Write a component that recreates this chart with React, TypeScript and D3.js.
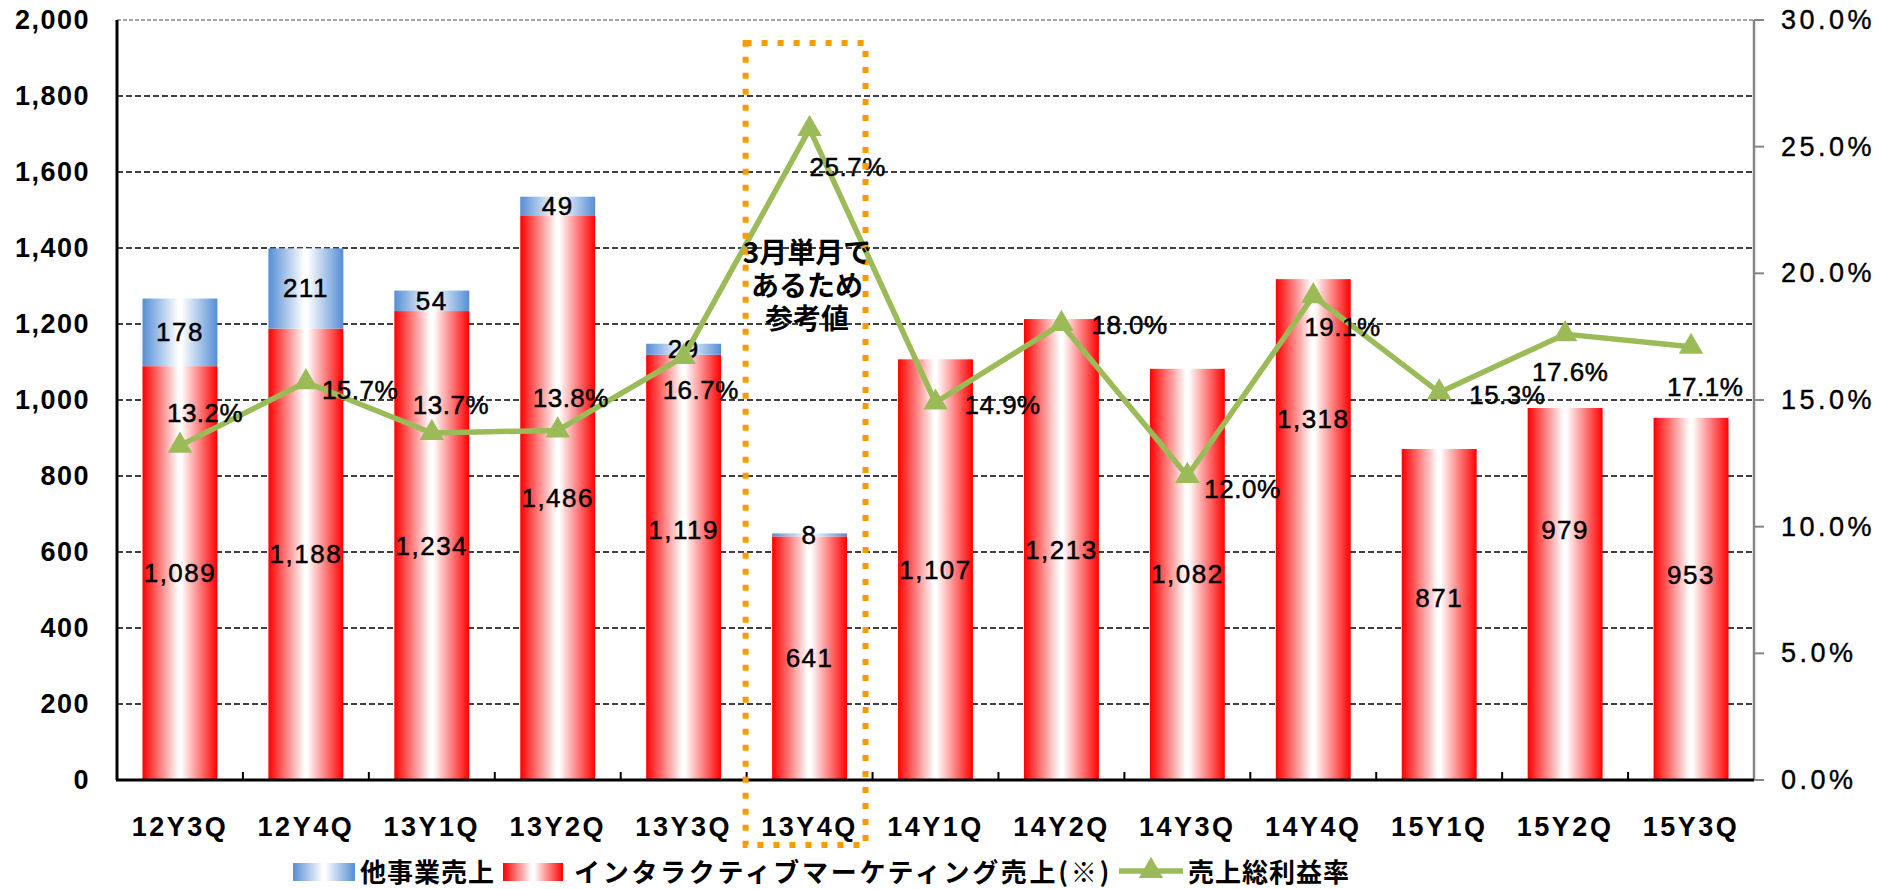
import * as d3 from "d3";

// 四半期ごとの売上（百万円）と売上総利益率
const categories = ["12Y3Q", "12Y4Q", "13Y1Q", "13Y2Q", "13Y3Q", "13Y4Q", "14Y1Q", "14Y2Q", "14Y3Q", "14Y4Q", "15Y1Q", "15Y2Q", "15Y3Q"];
const interactiveSales = [1089, 1188, 1234, 1486, 1119, 641, 1107, 1213, 1082, 1318, 871, 979, 953];
const otherSales = [178, 211, 54, 49, 29, 8, 0, 0, 0, 0, 0, 0, 0];
const grossMarginRate = [13.2, 15.7, 13.7, 13.8, 16.7, 25.7, 14.9, 18.0, 12.0, 19.1, 15.3, 17.6, 17.1];
const salesTicks = [0, 200, 400, 600, 800, 1000, 1200, 1400, 1600, 1800, 2000];
const rateTicks = [0, 5, 10, 15, 20, 25, 30];
const legendLabels = ["他事業売上", "インタラクティブマーケティング売上(※)", "売上総利益率"];
const noteLines = ["3月単月で", "あるため", "参考値"];

// ラベルの微調整（元の図で手動で動かしてある位置）
const rateLabelOffset = [[-13, -33], [16, 8], [-19, -28], [-25, -32], [-21, 33], [0, 38], [29, 2], [30, 1], [17, 13], [-9, 31], [30, 3], [-33, 38], [-24, 40]];
const redLabelShift = [0, 0, 0, 0, -37, 0, 0, 0, 0, -111, -17, -64, -24];

const W = 1879, H = 889;
const left = 117, right = 1754, top = 20, bottom = 780;
const numFont = "'Liberation Sans', Arial, 'Noto Sans CJK JP', sans-serif";
const jpFont = "'Noto Sans CJK JP', sans-serif";

const App = () => {
    const x = d3.scaleBand().domain(categories).range([left, right]).paddingInner(0.405).paddingOuter(0.2025);
    const step = x.step();
    const cx = (i) => left + step * (i + 0.5);
    const yL = d3.scaleLinear().domain([0, 2000]).range([bottom, top]);
    const yR = d3.scaleLinear().domain([0, 30]).range([bottom, top]);

    const line = d3.line().x((d, i) => cx(i)).y(d => yR(d));
    const tri = d3.symbol(d3.symbolTriangle, 260)();
    const fmt = d3.format(",");

    const noteIdx = categories.indexOf("13Y4Q");
    const noteX = x(categories[noteIdx]) - step * 0.405 / 2 - 1;

    // データラベル共通
    const lbl = {fontFamily: numFont, fontSize: 26, letterSpacing: 1.5, stroke: "#000", strokeWidth: 0.5, dominantBaseline: "central"};
    const leg = {dominantBaseline: "central", fontFamily: jpFont, fontSize: 26, fontWeight: "bold"};

    return (
        <svg width={W} height={H} style={{position: "absolute", left: 0, top: 0, background: "#fff"}}>
            <defs>
                <linearGradient id="gRed" x1="0" x2="1" y1="0" y2="0">
                    <stop offset="0%" stopColor="#ff0000" />
                    <stop offset="48%" stopColor="#ffffff" />
                    <stop offset="52%" stopColor="#ffffff" />
                    <stop offset="100%" stopColor="#ff0000" />
                </linearGradient>
                <linearGradient id="gBlue" x1="0" x2="1" y1="0" y2="0">
                    <stop offset="0%" stopColor="#558ed5" />
                    <stop offset="48%" stopColor="#ffffff" />
                    <stop offset="52%" stopColor="#ffffff" />
                    <stop offset="100%" stopColor="#558ed5" />
                </linearGradient>
            </defs>

            {/* グリッド線 */}
            {salesTicks.filter(t => t > 0 && t < 2000).map(t => (
                <line key={t} x1={left} x2={right} y1={yL(t)} y2={yL(t)} stroke="#000" strokeWidth={1.5} strokeDasharray="6 3" />
            ))}
            <line x1={left} x2={right} y1={yL(2000)} y2={yL(2000)} stroke="#888" strokeWidth={1.5} strokeDasharray="4 2" />

            {/* 棒グラフ */}
            {categories.map((c, i) => (
                <g key={c}>
                    <rect x={x(c)} y={yL(interactiveSales[i])} width={x.bandwidth()} height={bottom - yL(interactiveSales[i])} fill="url(#gRed)" />
                    {otherSales[i] > 0 && (
                        <rect x={x(c)} y={yL(interactiveSales[i] + otherSales[i])} width={x.bandwidth()}
                              height={yL(interactiveSales[i]) - yL(interactiveSales[i] + otherSales[i])} fill="url(#gBlue)" />
                    )}
                </g>
            ))}

            {/* 軸 */}
            <line x1={left} x2={left} y1={top} y2={bottom} stroke="#000" strokeWidth={3} />
            <line x1={right} x2={right} y1={top} y2={bottom} stroke="#868686" strokeWidth={2.5} />
            {rateTicks.map(t => (
                <line key={t} x1={right} x2={right + 10} y1={yR(t)} y2={yR(t)} stroke="#868686" strokeWidth={2} />
            ))}
            {categories.map((c, i) => i > 0 && (
                <line key={c} x1={left + step * i} x2={left + step * i} y1={bottom} y2={bottom - 8} stroke="#000" strokeWidth={2} />
            ))}
            <line x1={left - 1} x2={right} y1={bottom} y2={bottom} stroke="#000" strokeWidth={3} />

            {salesTicks.map(t => (
                <text key={t} x={90} y={yL(t)} textAnchor="end" dominantBaseline="central" fontFamily={numFont}
                      fontSize={27} fontWeight="bold" letterSpacing={1.5}>{fmt(t)}</text>
            ))}
            {rateTicks.map(t => (
                <text key={t} x={1781} y={yR(t)} dominantBaseline="central" fontFamily={numFont} fontSize={27}
                      letterSpacing={3.5} stroke="#000" strokeWidth={0.4}>{t.toFixed(1)}%</text>
            ))}
            {categories.map((c, i) => (
                <text key={c} x={cx(i)} y={827} textAnchor="middle" dominantBaseline="central"
                      fontFamily="'Liberation Sans Narrow', 'Arial Narrow', 'Liberation Sans', sans-serif"
                      fontSize={27} fontWeight="bold" letterSpacing={2.5}>{c}</text>
            ))}

            {/* 棒のラベル */}
            {categories.map((c, i) => (
                <text key={c} x={cx(i)} y={(yL(interactiveSales[i]) + bottom) / 2 + redLabelShift[i]} textAnchor="middle"
                      {...lbl}>{fmt(interactiveSales[i])}</text>
            ))}
            {categories.map((c, i) => otherSales[i] > 0 && (
                <text key={c} x={cx(i)} y={yL(interactiveSales[i] + otherSales[i] / 2)} textAnchor="middle"
                      {...lbl}>{otherSales[i]}</text>
            ))}

            {/* 売上総利益率 */}
            <path d={line(grossMarginRate)} fill="none" stroke="#9bbb59" strokeWidth={5.5} strokeLinejoin="round" />
            {grossMarginRate.map((r, i) => (
                <path key={i} d={tri} transform={`translate(${cx(i)},${yR(r)})`} fill="#9bbb59" />
            ))}
            {grossMarginRate.map((r, i) => (
                <text key={i} x={cx(i) + rateLabelOffset[i][0]} y={yR(r) + rateLabelOffset[i][1]} {...lbl}
                      letterSpacing={0.5}>{r.toFixed(1)}%</text>
            ))}

            {/* 13Y4Q の注記 */}
            <rect x={noteX} y={43} width={step - 6} height={802} fill="none" stroke="#ff9900" strokeWidth={6} strokeDasharray="6 10" />
            {noteLines.map((s, i) => (
                <text key={s} x={807} y={251 + i * 33} textAnchor="middle" dominantBaseline="central" fontFamily={jpFont}
                      fontSize={28} fontWeight="bold">{s}</text>
            ))}

            {/* 凡例 */}
            <rect x={293} y={863} width={62} height={18} fill="url(#gBlue)" />
            <text x={360} y={870} {...leg} letterSpacing={1}>{legendLabels[0]}</text>
            <rect x={503} y={863} width={60} height={18} fill="url(#gRed)" />
            <text x={574} y={870} {...leg} letterSpacing={2.7}>{legendLabels[1]}</text>
            <line x1={1119} x2={1183} y1={871} y2={871} stroke="#9bbb59" strokeWidth={5.5} />
            <path d={tri} transform="translate(1151,871)" fill="#9bbb59" />
            <text x={1188} y={870} {...leg} letterSpacing={1}>{legendLabels[2]}</text>
        </svg>
    );
};

export default App;
